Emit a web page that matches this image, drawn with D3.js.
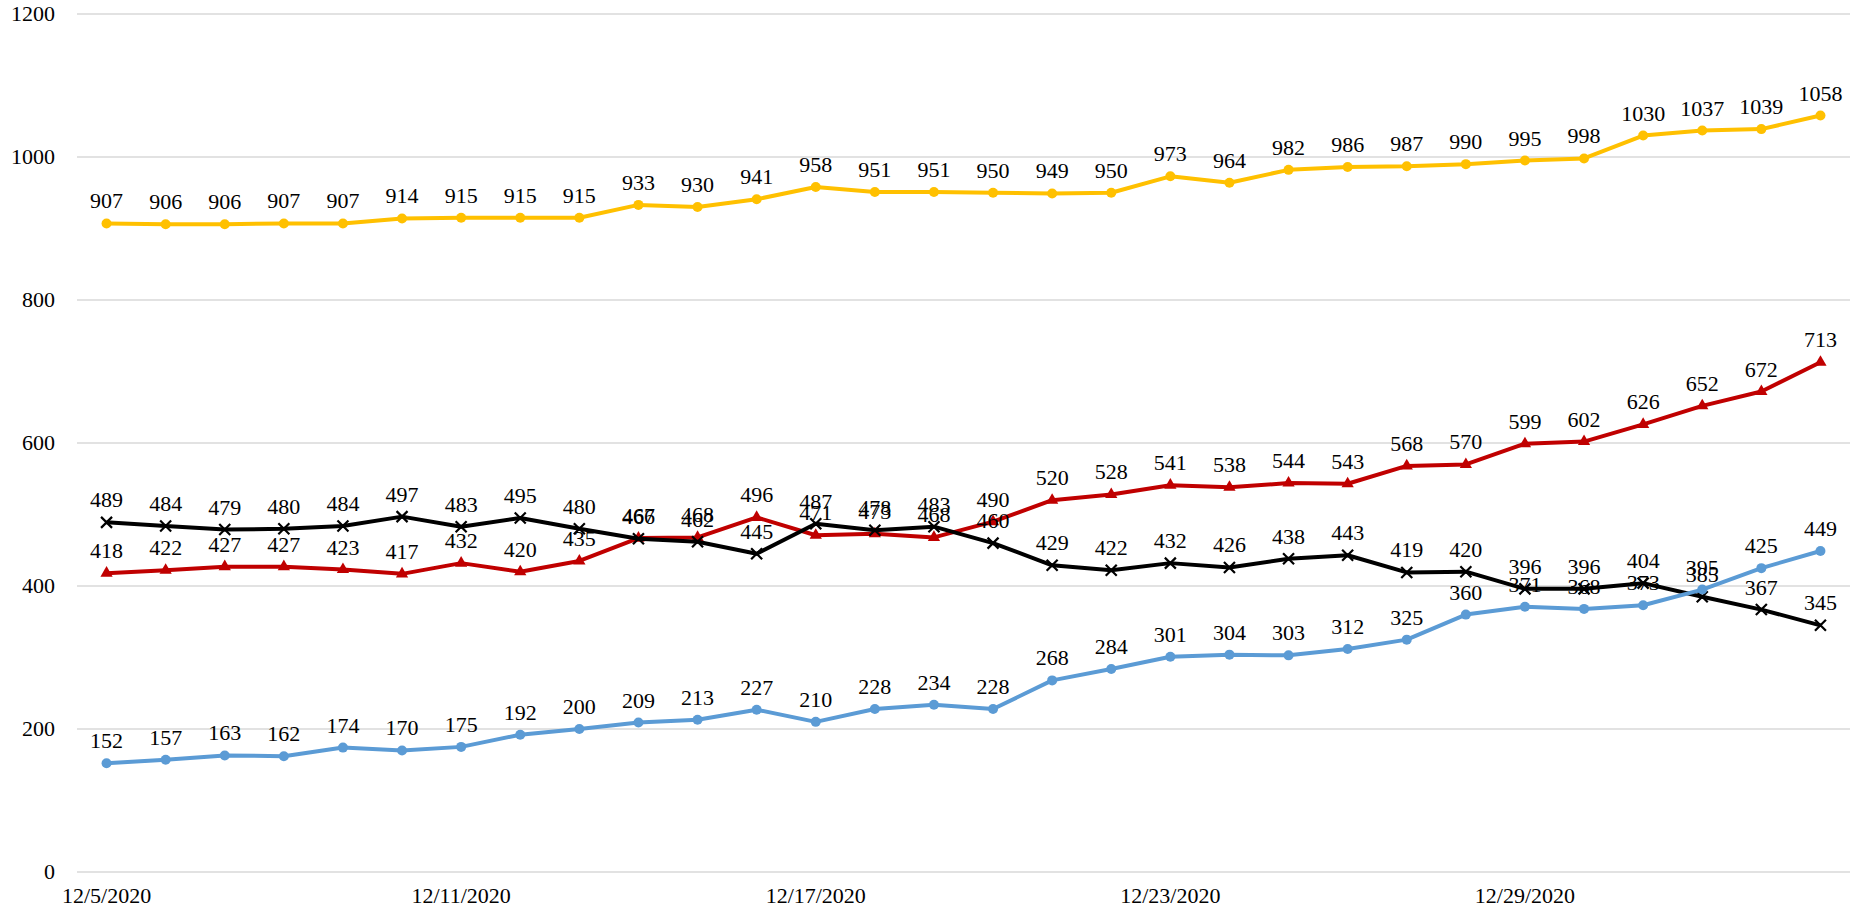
<!DOCTYPE html>
<html>
<head>
<meta charset="utf-8">
<script src="https://cdn.jsdelivr.net/npm/d3@7"></script>
<style>
  body { margin: 0; background: #fff; }
  text { font-family: "Liberation Serif", "Times New Roman", "DejaVu Serif", serif; font-size: 22px; fill: #000; }
</style>
</head>
<body>
<script>
const width = 1860
const height = 909
const margin = { top: 14, right: 10, bottom: 37, left: 77 }

// 12/5/2020 .. 1/3/2021
const dates = d3.range(0, 30).map((i) => {
  const d = new Date(2020, 11, 5 + i)
  return `${d.getMonth() + 1}/${d.getDate()}/${d.getFullYear()}`
})

const yellowValues = [907, 906, 906, 907, 907, 914, 915, 915, 915, 933, 930, 941, 958, 951, 951,
  950, 949, 950, 973, 964, 982, 986, 987, 990, 995, 998, 1030, 1037, 1039, 1058]
const redValues = [418, 422, 427, 427, 423, 417, 432, 420, 435, 467, 468, 496, 471, 473, 468,
  490, 520, 528, 541, 538, 544, 543, 568, 570, 599, 602, 626, 652, 672, 713]
const blackValues = [489, 484, 479, 480, 484, 497, 483, 495, 480, 466, 462, 445, 487, 478, 483,
  460, 429, 422, 432, 426, 438, 443, 419, 420, 396, 396, 404, 385, 367, 345]
const blueValues = [152, 157, 163, 162, 174, 170, 175, 192, 200, 209, 213, 227, 210, 228, 234,
  228, 268, 284, 301, 304, 303, 312, 325, 360, 371, 368, 373, 395, 425, 449]

const yTicks = [0, 200, 400, 600, 800, 1000, 1200]
const xTickEvery = 6

const series = [
  { name: "yellow", values: yellowValues, color: "#FFC000", marker: "circle" },
  { name: "red", values: redValues, color: "#C00000", marker: "triangle" },
  { name: "black", values: blackValues, color: "#000000", marker: "cross" },
  { name: "blue", values: blueValues, color: "#5B9BD5", marker: "circle" },
]

const x = d3.scaleBand().domain(dates).range([margin.left, width - margin.right])
const y = d3.scaleLinear().domain([0, 1200]).range([height - margin.bottom, margin.top])
const cx = (d) => x(d) + x.bandwidth() / 2

const svg = d3.select("body").append("svg")
  .attr("width", width)
  .attr("height", height)

// gridlines
svg.append("g")
  .selectAll("line")
  .data(yTicks)
  .enter()
  .append("line")
  .attr("x1", margin.left)
  .attr("x2", width - margin.right)
  .attr("y1", (d) => y(d))
  .attr("y2", (d) => y(d))
  .attr("stroke", "#D9D9D9")
  .attr("stroke-width", 1.5)

// y labels
svg.append("g")
  .selectAll("text")
  .data(yTicks)
  .enter()
  .append("text")
  .attr("x", 55)
  .attr("y", (d) => y(d) + 7)
  .attr("text-anchor", "end")
  .text((d) => d)

// x labels
svg.append("g")
  .selectAll("text")
  .data(dates.filter((d, i) => i % xTickEvery === 0))
  .enter()
  .append("text")
  .attr("x", (d) => cx(d))
  .attr("y", height - 6)
  .attr("text-anchor", "middle")
  .text((d) => d)

const line = d3.line()
  .x((d, i) => cx(dates[i]))
  .y((d) => y(d))

series.forEach((s) => {
  const g = svg.append("g").attr("class", s.name)

  g.append("path")
    .datum(s.values)
    .attr("fill", "none")
    .attr("stroke", s.color)
    .attr("stroke-width", 4)
    .attr("stroke-linejoin", "round")
    .attr("d", line)

  const pts = g.selectAll(".pt")
    .data(s.values)
    .enter()
    .append("g")
    .attr("class", "pt")
    .attr("transform", (d, i) => `translate(${cx(dates[i])},${y(d)})`)

  if (s.marker === "circle") {
    pts.append("circle").attr("r", 5).attr("fill", s.color)
  } else if (s.marker === "triangle") {
    pts.append("path")
      .attr("d", d3.symbol(d3.symbolTriangle, 65))
      .attr("fill", s.color)
  } else {
    pts.append("path")
      .attr("d", "M-5.5,-5.5L5.5,5.5M-5.5,5.5L5.5,-5.5")
      .attr("stroke", s.color)
      .attr("stroke-width", 2.2)
  }

  g.selectAll(".lbl")
    .data(s.values)
    .enter()
    .append("text")
    .attr("class", "lbl")
    .attr("x", (d, i) => cx(dates[i]))
    .attr("y", (d) => y(d) - 15)
    .attr("text-anchor", "middle")
    .text((d) => d)
})
</script>
</body>
</html>
